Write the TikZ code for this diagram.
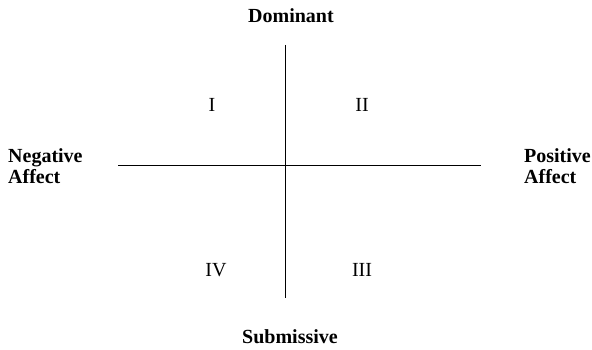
\documentclass[tikz,border=0pt]{standalone}
\usepackage{fontspec}
\setmainfont{Liberation Serif}
\begin{document}
\begin{tikzpicture}[x=1pt,y=-1pt,
  axis/.style={line width=1pt,black},
  lbl/.style={font=\fontsize{20}{21}\selectfont\bfseries,inner sep=0pt,align=left},
  quad/.style={font=\fontsize{20}{21}\selectfont,inner sep=0pt}]
\useasboundingbox (0,0) rectangle (592,350);
\coordinate (top) at (285,45);
\coordinate (bot) at (285,298);
\coordinate (lft) at (118,166);
\coordinate (rgt) at (481,166);
\draw[axis] (top) -- (bot);
\draw[axis] (lft) -- (rgt);
\node[lbl] (dom) at (291,16) {Dominant};
\node[lbl] (sub) at (290,337) {Submissive};
\node[lbl,anchor=west] (neg) at (8,166) {Negative\\Affect};
\node[lbl,anchor=east] (pos) at (591,166) {Positive\\Affect};
\node[quad] (q1) at (212,105) {I};
\node[quad] (q2) at (362,105) {II};
\node[quad] (q3) at (362,270) {III};
\node[quad] (q4) at (216,270) {IV};
\end{tikzpicture}
\end{document}
